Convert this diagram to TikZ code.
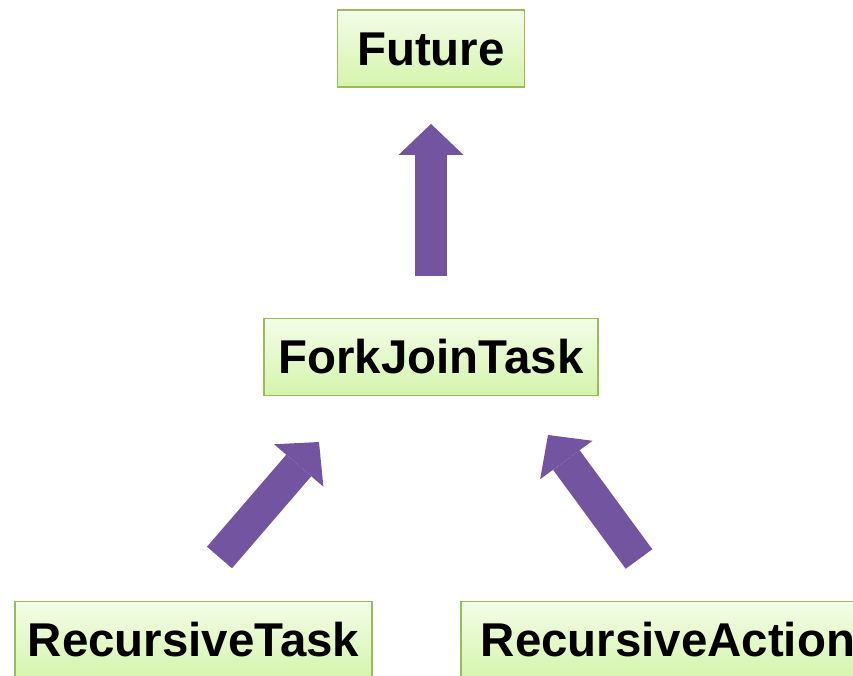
\documentclass[tikz,border=0pt]{standalone}
\usepackage{fontspec}
\setmainfont{Liberation Sans}
\usetikzlibrary{arrows.meta,positioning}
\definecolor{boxtop}{HTML}{F3FDE8}
\definecolor{boxbottom}{HTML}{D5F4AC}
\definecolor{boxline}{HTML}{9BBB59}
\definecolor{arrowfill}{HTML}{7354A0}
\tikzset{classbox/.style={draw=boxline,line width=1.1pt,top color=boxtop,bottom color=boxbottom,
    minimum height=1.54cm,inner sep=0pt,text height=19pt,text depth=0pt,
    font=\fontsize{27}{31}\selectfont\bfseries}}
\tikzset{bigarrow/.style={draw=arrowfill,line width=0.66cm,
    -{Triangle[width=1.3cm,length=0.62cm,line width=0pt]}}}

\begin{document}
\begin{tikzpicture}[x=0.02cm,y=-0.02cm]
    \clip (0,0) rectangle (853,676);
    \node[classbox,minimum width=3.74cm] (future) at (431,48.5) {Future};
    \node[classbox,minimum width=6.68cm] (fjt) at (431,357) {ForkJoinTask};
    \node[classbox,minimum width=7.14cm] (rtask) at (193.5,640) {RecursiveTask};
    \node[classbox,minimum width=8.28cm] (raction) at (668,640) {RecursiveAction};
    % arrow ends
    \coordinate (rtask-tail) at (219.5,557.5);
    \coordinate (rtask-tip) at (319,442);
    \coordinate (raction-tail) at (639,559);
    \coordinate (raction-tip) at (548,435);
    \draw[bigarrow,shorten <=0.84cm,shorten >=0.72cm] (fjt.north) -- (future.south);
    \draw[bigarrow] (rtask-tail) -- (rtask-tip);
    \draw[bigarrow] (raction-tail) -- (raction-tip);
\end{tikzpicture}
\end{document}
